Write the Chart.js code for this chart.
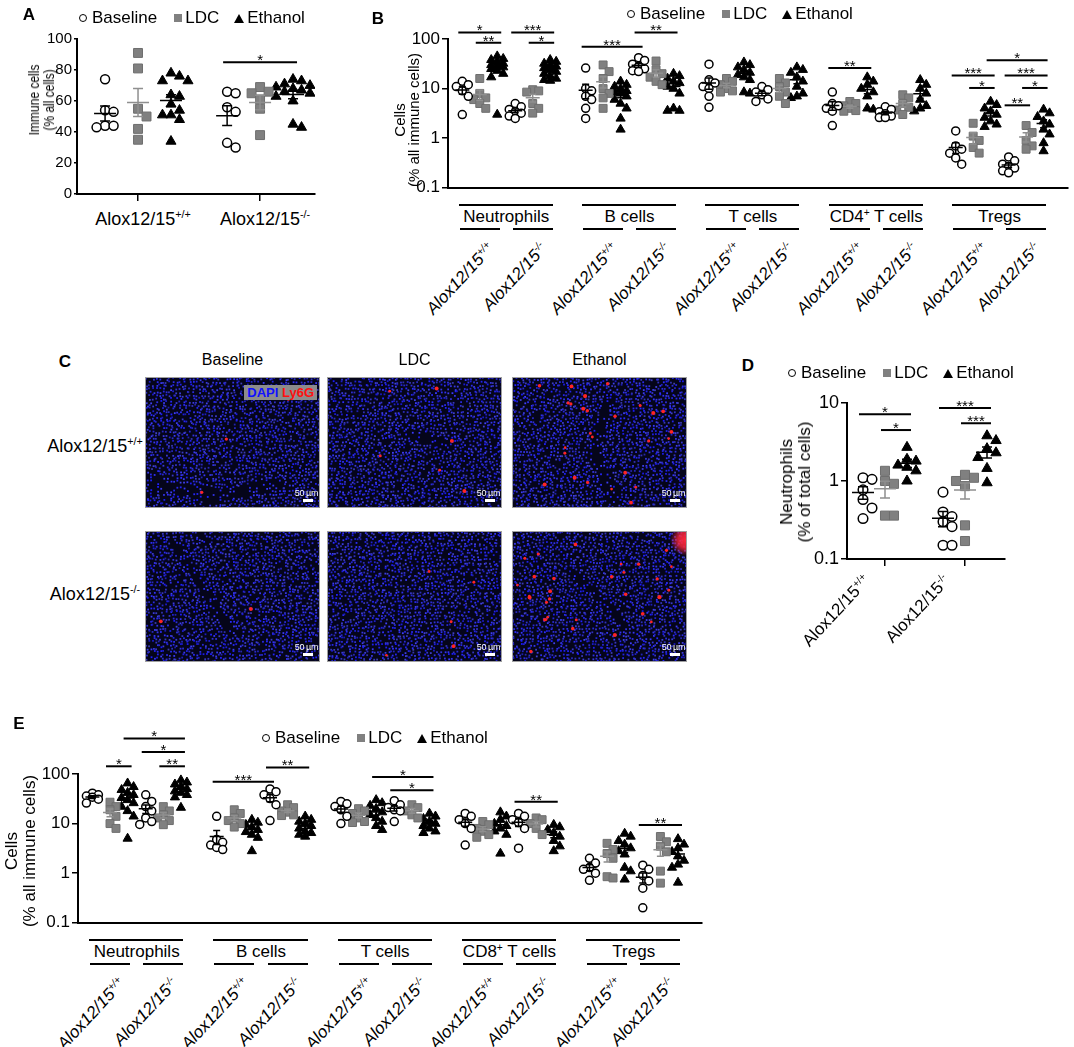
<!DOCTYPE html>
<html>
<head>
<meta charset="utf-8">
<script src="https://cdn.jsdelivr.net/npm/chart.js@4.4.1/dist/chart.umd.min.js"></script>
<style>
  body { margin: 0; background: #fff; font-family: "Liberation Sans", Arial, sans-serif; color: #000; }
  #fig { position: relative; width: 1074px; height: 1047px; overflow: hidden; }
  canvas { position: absolute; }
  .letter { position: absolute; font-weight: bold; font-size: 17px; transform: translate(-50%, -50%); }
  .legend { position: absolute; display: flex; align-items: center; font-size: 17px; white-space: nowrap; transform: translateY(-50%); }
  .mk-c { display: inline-block; width: 6px; height: 6px; border: 1.8px solid #000; border-radius: 50%; }
  .mk-s { display: inline-block; width: 8px; height: 8px; background: #808080; }
  .mk-t { display: inline-block; width: 0; height: 0; border-left: 5px solid transparent; border-right: 5px solid transparent; border-bottom: 9px solid #000; }
  .ytitle { position: absolute; text-align: center; white-space: nowrap; }
  .grp { font-size: 17px; }
  .rot { font-size: 17px; line-height: 18px; }
  .it { font-style: italic; }
  .xl { font-size: 18px; }
  .hdr { font-size: 16px; }
  sup { font-size: 0.6em; line-height: 0; vertical-align: 0.6em; }
  .mic { position: absolute; width: 175px; height: 131px; box-sizing: border-box; border: 1px solid #a0a0a0; overflow: hidden; }
  .mic canvas { left: 0; top: 0; }
  .mic .sb { position: absolute; right: 1px; bottom: 9px; color: #fff; font-size: 9px; letter-spacing: -0.4px; }
  .mic .bar { position: absolute; right: 6px; bottom: 5px; width: 10px; height: 3px; background: #fff; }
  .tag { position: absolute; background: #8c8c8c; font-weight: bold; font-size: 13px; line-height: 15px; padding: 0 3px; }
</style>
</head>
<body>
<div id="fig"></div>
<script>
// ---------- data ----------
const treatments = ['Baseline', 'LDC', 'Ethanol'];
const genotypes = ['Alox12/15<sup>+/+</sup>', 'Alox12/15<sup>-/-</sup>'];

// each panel group: +/+ Baseline, +/+ LDC, +/+ Ethanol, -/- Baseline, -/- LDC, -/- Ethanol
// A: immune cells (% all cells)
const aTicks = [0, 20, 40, 60, 80, 100];
const aImmune = [
  [74, 54, 53, 44, 44, 43],
  [91, 81, 55, 50, 42, 35],
  [78, 76, 73, 73, 64, 63, 58, 54, 51, 51, 48, 34],
  [66, 65, 56, 53, 33, 30],
  [69, 66, 65, 61, 55, 38],
  [74, 73, 71, 70, 69, 68, 67, 66, 65, 63, 60, 45, 43]
];
const sigA = [[3, 5, 85, '*']];

// B: cells (% all immune cells), log axis
const logTicks = [0.1, 1, 10, 100];
const bGroups = ['Neutrophils', 'B cells', 'T cells', 'CD4<sup>+</sup> T cells', 'Tregs'];
const bNeutrophils = [
  [14, 12, 11, 9, 7, 3],
  [16, 8, 6.5, 6, 5, 4],
  [45, 40, 38, 35, 32, 30, 28, 27, 25, 23, 20, 17, 3],
  [5, 4.3, 3.8, 3.4, 3.2, 2.8, 2.5],
  [9.5, 9, 8.5, 5, 4, 3.2],
  [38, 35, 32, 30, 28, 26, 24, 22, 20, 18, 16, 15, 14.5]
];
const bBcells = [
  [26, 10, 9, 7, 6, 4, 2.5],
  [30, 22, 16, 10, 8, 6.5, 4],
  [14, 12, 11, 10, 9, 8.5, 8, 7, 6, 5, 4, 2.5, 1.5],
  [42, 37, 31, 28, 25, 23, 22],
  [36, 24, 20, 17, 14, 12],
  [20, 18, 16, 14, 13, 11, 10, 8, 4, 3.6, 3.6]
];
const bTcells = [
  [31, 15, 13, 11, 10, 7, 4.2],
  [16, 14, 12, 10, 9, 8.5],
  [34, 30, 27, 24, 21, 19, 17, 15, 8.5, 8],
  [11, 9.5, 8.5, 7.5, 6.2, 5.5],
  [16, 13, 11, 8.5, 7, 5],
  [27, 24, 21, 17, 14, 11, 8, 7, 6.5]
];
const bCd4 = [
  [8.5, 5, 4.5, 4, 3.5, 1.8],
  [5.5, 5, 4.5, 4, 3.6, 3.5],
  [17, 14, 12, 10, 8.5, 7, 4, 3.8],
  [4.3, 3.8, 3.4, 3.1, 2.8, 2.6, 2.6],
  [7.5, 6.5, 5, 4.2, 3.7, 3],
  [15, 12, 10, 8, 6, 4.5, 4, 3.5]
];
const bTregs = [
  [1.4, 0.7, 0.6, 0.5, 0.4, 0.3],
  [2, 1.1, 0.9, 0.65, 0.5],
  [5.5, 4.7, 4, 3.5, 3, 2.6, 2.2, 1.9, 1.7],
  [0.42, 0.35, 0.3, 0.27, 0.25, 0.22, 0.2],
  [1.8, 1.3, 0.9, 0.7, 0.6],
  [3.8, 3.2, 2.7, 2.2, 1.9, 1.5, 1.2, 0.8, 0.55]
];
const sigB = [
  [0, 2, 136, '*'], [1, 2, 84, '**'], [3, 5, 136, '***'], [4, 5, 84, '*'],
  [6, 9, 70, '***'], [9, 11, 136, '**'],
  [18, 20, 26, '**'],
  [26, 29, 37.5, '*'], [24, 26, 18.4, '***'], [27, 29, 18.4, '***'],
  [25, 26, 10.3, '*'], [28, 29, 10.3, '*'], [27, 28, 4.6, '**']
];

// D: neutrophils (% of total cells)
const dTicks = [0.1, 1, 10];
const dNeutrophils = [
  [1.1, 1.05, 0.77, 0.58, 0.45, 0.33],
  [1.35, 1.0, 0.92, 0.36, 0.36],
  [2.7, 1.9, 1.8, 1.6, 1.5, 1.35, 1.0],
  [0.72, 0.4, 0.35, 0.3, 0.26, 0.15, 0.15],
  [1.2, 1.1, 1.0, 0.86, 0.27, 0.17],
  [3.8, 3.3, 2.6, 2.3, 2.0, 1.45, 0.95]
];
const sigD = [[0, 2, 7.2, '*'], [1, 2, 4.5, '*'], [3, 5, 8.6, '***'], [4, 5, 5.5, '***']];

// E: cells (% all immune cells)
const eGroups = ['Neutrophils', 'B cells', 'T cells', 'CD8<sup>+</sup> T cells', 'Tregs'];
const eNeutrophils = [
  [41, 38, 36, 34, 31, 26],
  [27, 22, 19, 14, 10, 8],
  [65, 55, 48, 42, 38, 33, 30, 26, 22, 18, 14, 5],
  [38, 28, 22, 18, 13, 11, 9.6],
  [22, 18, 15, 13, 11.5, 9.5],
  [75, 68, 62, 56, 50, 45, 42, 38, 34, 21]
];
const eBcells = [
  [14, 4.8, 4.2, 3.7, 3.3, 3.0],
  [19, 16, 13, 11.5, 10, 8.5],
  [12, 10.5, 9.5, 8.5, 7.5, 6.8, 6, 5.2, 2.8],
  [50, 44, 38, 32, 24, 11.5],
  [24, 21, 18, 17, 15, 14.5],
  [14, 12, 11, 10, 9, 8, 7, 6.5, 6, 5.5]
];
const eTcells = [
  [28, 25, 22, 19, 14, 10],
  [20, 18, 16, 13, 11, 10.5],
  [30, 26, 23, 20, 17, 15, 13, 11, 9, 7.5],
  [29, 24, 21, 19, 18, 11],
  [24, 21, 18, 15, 13],
  [16, 14, 12.5, 11, 10, 9, 8, 7, 6.5]
];
const eCd8 = [
  [16, 14, 12, 10, 8, 3.7],
  [11, 9.5, 8, 7, 6, 5.3],
  [17, 14, 12, 10, 9, 8, 7, 6, 2.5],
  [16, 14, 12, 10.5, 8, 3.2],
  [13, 12, 10, 8, 6],
  [9.5, 8.5, 7.5, 6.5, 5.5, 4.5, 3.5, 2.8]
];
const eTregs = [
  [2.0, 1.6, 1.3, 1.2, 1.0, 0.72],
  [4.0, 3.0, 2.5, 2.0, 0.85, 0.8],
  [6.3, 5.5, 4.5, 3.8, 3.2, 2.8, 2.4, 1.3, 1.1, 0.75],
  [1.45, 1.2, 0.9, 0.7, 0.5, 0.2],
  [5.5, 4.3, 3.5, 2.7, 1.1, 0.63],
  [4.9, 3.8, 3.2, 2.7, 2.2, 1.8, 1.5, 1.3, 0.65]
];
const sigE = [
  [2, 5, 520, '*'], [3, 5, 278, '*'], [4, 5, 143, '**'], [1, 2, 143, '*'],
  [6, 9, 70, '***'], [9, 11, 136, '**'],
  [14, 17, 87.5, '*'], [15, 17, 47, '*'],
  [21, 23, 27.5, '**'],
  [27, 29, 9.4, '**']
];

// C: Ly6G+ spots per image (rows +/+, -/-; columns Baseline, LDC, Ethanol)
const redSpots = [[4, 6, 26], [2, 5, 30]];

// ---------- helpers ----------
Chart.defaults.font.family = '"Liberation Sans", Arial, sans-serif';
const fig = document.getElementById('fig');

function div(cls, css, html) {
  const d = document.createElement('div');
  if (cls) d.className = cls;
  d.style.cssText = css || '';
  if (html) d.innerHTML = html;
  fig.appendChild(d);
  return d;
}
function centerText(html, x, y, cls) {
  return div(cls, `position:absolute;left:${x}px;top:${y}px;transform:translate(-50%,-50%);white-space:nowrap`, html);
}
function hbar(x, y, w) {
  div('', `position:absolute;left:${x}px;top:${y - 1}px;width:${w}px;height:2px;background:#000`);
}
function rotLabel(html, x, y, cls, deg) {
  const w = div('', `position:absolute;left:${x}px;top:${y}px;width:0;height:0`);
  const s = document.createElement('div');
  s.className = cls;
  s.innerHTML = html;
  s.style.cssText = `position:absolute;right:0;top:0;white-space:nowrap;transform-origin:100% 50%;transform:translateY(-50%) rotate(${-deg}deg)`;
  w.appendChild(s);
}
function yTitle(lines, x, y, size, lh, sx) {
  div('ytitle', `left:${x}px;top:${y}px;font-size:${size}px;line-height:${lh}px;transform:translate(-50%,-50%) rotate(-90deg) scaleX(${sx || 1})`, lines.join('<br>'));
}
function legend(x, y) {
  div('legend', `left:${x}px;top:${y}px`,
    '<span class="mk-c"></span><span style="margin-left:5px">Baseline</span>' +
    '<span class="mk-s" style="margin-left:17px"></span><span style="margin-left:3px">LDC</span>' +
    '<span class="mk-t" style="margin-left:15px"></span><span style="margin-left:3px">Ethanol</span>');
}
function letter(t, x, y) { div('letter', `left:${x}px;top:${y}px`, t); }

const markerStyles = [
  { pointStyle: 'circle', backgroundColor: '#fff', borderColor: '#000', borderWidth: 1.5 },
  { pointStyle: 'rect', backgroundColor: '#808080', borderColor: '#6e6e6e', borderWidth: 1 },
  { pointStyle: 'triangle', backgroundColor: '#000', borderColor: '#000', borderWidth: 1 }
];
const statColors = ['#000', '#8f8f8f', '#000'];

// mean +/- SEM lines and significance bars
const statsPlugin = {
  id: 'stats',
  afterDatasetsDraw(chart, args, o) {
    const ctx = chart.ctx, xs = chart.scales.x, ys = chart.scales.y;
    ctx.save();
    o.slots.forEach(s => {
      const n = s.values.length;
      const mean = s.values.reduce((a, b) => a + b, 0) / n;
      const sd = Math.sqrt(s.values.reduce((a, b) => a + (b - mean) ** 2, 0) / (n - 1));
      const sem = sd / Math.sqrt(n);
      const x = xs.getPixelForValue(s.cx);
      const ym = ys.getPixelForValue(mean);
      const y1 = ys.getPixelForValue(mean + sem);
      const y2 = ys.getPixelForValue(Math.max(mean - sem, ys.min));
      ctx.strokeStyle = statColors[s.t];
      ctx.lineWidth = o.lw;
      ctx.beginPath();
      ctx.moveTo(x - o.meanW / 2, ym); ctx.lineTo(x + o.meanW / 2, ym);
      ctx.moveTo(x, y1); ctx.lineTo(x, y2);
      ctx.moveTo(x - o.capW / 2, y1); ctx.lineTo(x + o.capW / 2, y1);
      ctx.moveTo(x - o.capW / 2, y2); ctx.lineTo(x + o.capW / 2, y2);
      ctx.stroke();
    });
    ctx.strokeStyle = '#000';
    ctx.fillStyle = '#000';
    ctx.lineWidth = 2;
    ctx.textAlign = 'center';
    ctx.font = '15px "Liberation Sans", Arial';
    o.sigs.forEach(([a, b, v, txt]) => {
      const x1 = xs.getPixelForValue(o.slots[a].cx) - 4;
      const x2 = xs.getPixelForValue(o.slots[b].cx) + 4;
      const y = ys.getPixelForValue(v);
      ctx.beginPath(); ctx.moveTo(x1, y); ctx.lineTo(x2, y); ctx.stroke();
      ctx.fillText(txt, (x1 + x2) / 2, y + 3);
    });
    ctx.restore();
  }
};

// spread points of one slot sideways so markers do not sit on each other
function swarm(chart, step, dia, maxK) {
  const xs = chart.scales.x, ys = chart.scales.y;
  const unit = xs.getPixelForValue(1) - xs.getPixelForValue(0);
  const offsets = [0];
  for (let k = 1; k <= maxK; k++) offsets.push(k * step, -k * step);
  chart.data.datasets.forEach(ds => {
    const bySlot = new Map();
    ds.data.forEach(p => {
      if (!bySlot.has(p.cx)) bySlot.set(p.cx, []);
      bySlot.get(p.cx).push(p);
    });
    bySlot.forEach(pts => {
      pts.sort((a, b) => b.y - a.y);
      const placed = [];
      pts.forEach(p => {
        const py = ys.getPixelForValue(p.y);
        let best = 0, bestD = -1;
        for (const off of offsets) {
          let d = Infinity;
          placed.forEach(q => { d = Math.min(d, Math.hypot((q.off - off) / step * dia, q.py - py)); });
          if (d >= dia) { best = off; bestD = d; break; }
          if (d > bestD) { bestD = d; best = off; }
        }
        placed.push({ py, off: best });
        p.x = p.cx + best / unit;
      });
    });
  });
  chart.update('none');
}

function buildChart(p) {
  const cv = document.createElement('canvas');
  cv.width = p.w; cv.height = p.h;
  cv.style.left = p.left + 'px';
  cv.style.top = p.top + 'px';
  fig.appendChild(cv);
  const slots = [];
  p.groups.forEach((arr, g) => arr.forEach((vals, i) => {
    const k = Math.floor(i / 3), t = i % 3;
    slots.push({ cx: p.slotX(g, k, t), t, values: vals });
  }));
  const datasets = [0, 1, 2].map(t => Object.assign({
    label: treatments[t],
    data: slots.filter(s => s.t === t).flatMap(s => s.values.map(v => ({ x: s.cx, y: v, cx: s.cx }))),
    pointRadius: p.radii[t],
    showLine: false
  }, markerStyles[t]));
  const yAxis = p.log
    ? { type: 'logarithmic', min: p.yTicks[0], max: p.yTicks[p.yTicks.length - 1] }
    : { type: 'linear', min: p.yTicks[0], max: p.yTicks[p.yTicks.length - 1] };
  Object.assign(yAxis, {
    afterBuildTicks: ax => { ax.ticks = p.yTicks.map(v => ({ value: v })); },
    afterFit: ax => { ax.width = p.yW; },
    ticks: { color: '#000', font: { size: p.tickSize }, padding: 2, callback: v => String(v) },
    grid: { drawOnChartArea: false, drawTicks: true, tickLength: p.yTickLen, color: '#000', lineWidth: 1.5 },
    border: { display: true, color: '#000', width: 2 }
  });
  const chart = new Chart(cv, {
    type: 'scatter',
    data: { datasets },
    options: {
      responsive: false,
      animation: false,
      events: [],
      layout: { padding: { top: p.padTop, right: p.padRight, left: 0, bottom: 0 } },
      plugins: {
        legend: { display: false },
        tooltip: { enabled: false },
        stats: { slots, sigs: p.sigs, meanW: p.meanW, capW: p.capW, lw: 1.5 }
      },
      scales: {
        x: {
          type: 'linear', min: p.xMin, max: p.xMax,
          afterBuildTicks: ax => { ax.ticks = p.xTicks.map(v => ({ value: v })); },
          afterFit: ax => { ax.height = p.xH; },
          ticks: { display: false },
          grid: { display: p.xTicks.length > 0, drawOnChartArea: false, drawTicks: true, tickLength: 7, color: '#000', lineWidth: 1.5 },
          border: { display: true, color: '#000', width: 2 }
        },
        y: yAxis
      }
    },
    plugins: [statsPlugin]
  });
  swarm(chart, p.step, p.dia, p.maxK);
  return chart;
}

// slot positions on the x scale
const pairX = (g, k, t) => 1 + k + (t - 1) * 0.27;
const wideX = (g, k, t) => g * 2.33 + k + (t - 1) * 0.33;

// ---------- panel A ----------
const chartA = buildChart({
  left: 0, top: 0, w: 330, h: 205, yW: 77, padTop: 39, padRight: 15, xH: 11,
  groups: [aImmune], slotX: pairX, xMin: 0.5, xMax: 2.45, xTicks: [1, 2],
  log: false, yTicks: aTicks, tickSize: 15, yTickLen: 3,
  radii: [4.5, 6.3, 5.8], step: 8.5, dia: 9, maxK: 2,
  sigs: sigA, meanW: 22, capW: 10
});
letter('A', 29, 15);
legend(79, 18);
yTitle(['Immune cells', '(% all cells)'], 41, 100, 15, 15, 0.8);
[1, 2].forEach((v, k) => centerText(genotypes[k], chartA.scales.x.getPixelForValue(v) + 5, 219, 'xl'));

// ---------- panel B ----------
const chartB = buildChart({
  left: 330, top: 0, w: 744, h: 200, yW: 118, padTop: 39, padRight: 2, xH: 6,
  groups: [bNeutrophils, bBcells, bTcells, bCd4, bTregs], slotX: wideX,
  xMin: -0.6, xMax: 11.1, xTicks: [],
  log: true, yTicks: logTicks, tickSize: 17, yTickLen: 6,
  radii: [4, 5.6, 5.3], step: 6, dia: 7.5, maxK: 1,
  sigs: sigB, meanW: 14, capW: 7
});
letter('B', 378, 19);
legend(627, 14);
yTitle(['Cells', '(% all immune cells)'], 407, 120, 15, 14);

function groupLabels(chart, offX, axisY, names) {
  const xs = chart.scales.x;
  names.forEach((name, g) => {
    const wt = offX + xs.getPixelForValue(wideX(g, 0, 1));
    const ko = offX + xs.getPixelForValue(wideX(g, 1, 1));
    hbar(wt - 21, axisY + 11, ko - wt + 41);
    centerText(name, (wt + ko) / 2, axisY + 23, 'grp');
    hbar(wt - 20, axisY + 35, 40);
    hbar(ko - 20, axisY + 35, 40);
    rotLabel(genotypes[0], wt + 12, axisY + 52, 'rot it', 47);
    rotLabel(genotypes[1], ko + 12, axisY + 52, 'rot it', 47);
  });
}
groupLabels(chartB, 330, 194, bGroups);

// ---------- panel C: DAPI / Ly6G staining ----------
letter('C', 65, 362);
const micCols = [145, 327, 512];
const micRows = [377, 531];
const micW = 175, micH = 131;
['Baseline', 'LDC', 'Ethanol'].forEach((t, c) => centerText(t, micCols[c] + micW / 2, 360, 'hdr'));
centerText(genotypes[0], 95, 446, 'xl');
centerText(genotypes[1], 95, 594, 'xl');

// fixed texture generator for the nuclei background
function tex(i, j, s) {
  const v = Math.sin(i * 127.1 + j * 311.7 + s * 74.7) * 43758.5453;
  return v - Math.floor(v);
}
// darker streaks (vessels) per image: [x1, y1, x2, y2, halfWidth]
const vessels = [
  [[0, 100, 70, 118, 8], [70, 118, 130, 105, 6]],
  [[80, 55, 115, 65, 5]],
  [[95, 20, 80, 70, 5], [80, 70, 100, 120, 7]],
  [[30, 15, 85, 100, 4]],
  [],
  [[60, 40, 110, 90, 4]]
];
function segDist(x, y, s) {
  const [x1, y1, x2, y2] = s;
  const dx = x2 - x1, dy = y2 - y1;
  const t = Math.max(0, Math.min(1, ((x - x1) * dx + (y - y1) * dy) / (dx * dx + dy * dy)));
  return Math.hypot(x - x1 - t * dx, y - y1 - t * dy);
}
function drawMicro(cv, r, c) {
  const ctx = cv.getContext('2d');
  const seed = r * 3 + c + 1;
  ctx.fillStyle = '#05051a';
  ctx.fillRect(0, 0, cv.width, cv.height);
  const segs = vessels[seed - 1];
  for (let j = 0; j < cv.height; j += 3.3) {
    for (let i = 0; i < cv.width; i += 3.3) {
      const h1 = tex(i, j, seed), h2 = tex(j + 3, i, seed + 9);
      if (h1 < 0.12) continue;
      const x = i + (h2 - 0.5) * 3, y = j + (h1 - 0.5) * 3;
      if (segs.some(s => segDist(x, y, s) < s[4]) && h2 < 0.7) continue;
      const b = 170 + Math.floor(85 * h2);
      const rg = 20 + Math.floor(45 * h1);
      ctx.fillStyle = `rgb(${rg},${rg},${b})`;
      ctx.fillRect(x, y, 1.8, 1.8);
    }
  }
  ctx.fillStyle = '#ff2424';
  for (let k = 0; k < redSpots[r][c]; k++) {
    const x = 4 + tex(k, 5, seed + 20) * (cv.width - 8);
    const y = 4 + tex(7, k, seed + 30) * (cv.height - 8);
    ctx.beginPath();
    ctx.arc(x, y, 1.3 + tex(k, k, seed) * 0.8, 0, Math.PI * 2);
    ctx.fill();
  }
  if (r === 1 && c === 2) {
    const g = ctx.createRadialGradient(cv.width, 8, 0, cv.width, 8, 16);
    g.addColorStop(0, 'rgba(255,40,60,1)');
    g.addColorStop(0.5, 'rgba(255,40,60,0.8)');
    g.addColorStop(1, 'rgba(255,40,60,0)');
    ctx.fillStyle = g;
    ctx.fillRect(cv.width - 20, 0, 20, 28);
  }
}
micRows.forEach((top, r) => micCols.forEach((left, c) => {
  const m = div('mic', `left:${left}px;top:${top}px`);
  const cv = document.createElement('canvas');
  cv.width = micW - 2; cv.height = micH - 2;
  m.appendChild(cv);
  drawMicro(cv, r, c);
  m.insertAdjacentHTML('beforeend', '<div class="sb">50 µm</div><div class="bar"></div>');
  if (r === 0 && c === 0) {
    m.insertAdjacentHTML('beforeend', '<div class="tag" style="right:2px;top:7px"><span style="color:#1010ff">DAPI</span> <span style="color:#ff1010">Ly6G</span></div>');
  }
}));

// ---------- panel D ----------
const chartD = buildChart({
  left: 760, top: 360, w: 314, h: 215, yW: 87, padTop: 43, padRight: 69, xH: 16,
  groups: [dNeutrophils], slotX: (g, k, t) => 1 + k + (t - 1) * 0.275,
  xMin: 0.525, xMax: 2.5, xTicks: [1, 2],
  log: true, yTicks: dTicks, tickSize: 18, yTickLen: 6,
  radii: [4.8, 6.4, 6], step: 9, dia: 9.5, maxK: 1,
  sigs: sigD, meanW: 22, capW: 10
});
letter('D', 748, 366);
legend(788, 373);
yTitle(['Neutrophils', '(% of total cells)'], 796, 482, 17, 18);
[1, 2].forEach((v, k) => rotLabel(genotypes[k], 760 + chartD.scales.x.getPixelForValue(v) - 18, 578, 'rot', 47));

// ---------- panel E ----------
const chartE = buildChart({
  left: 0, top: 700, w: 720, h: 235, yW: 78, padTop: 74, padRight: 18, xH: 6,
  groups: [eNeutrophils, eBcells, eTcells, eCd8, eTregs], slotX: wideX,
  xMin: -0.6, xMax: 11.1, xTicks: [],
  log: true, yTicks: logTicks, tickSize: 17, yTickLen: 6,
  radii: [4, 5.6, 5.3], step: 6, dia: 7.5, maxK: 1,
  sigs: sigE, meanW: 14, capW: 7
});
letter('E', 19, 724);
legend(262, 738);
yTitle(['Cells', '(% all immune cells)'], 21, 851, 17, 18);
groupLabels(chartE, 0, 929, eGroups);
</script>
</body>
</html>
